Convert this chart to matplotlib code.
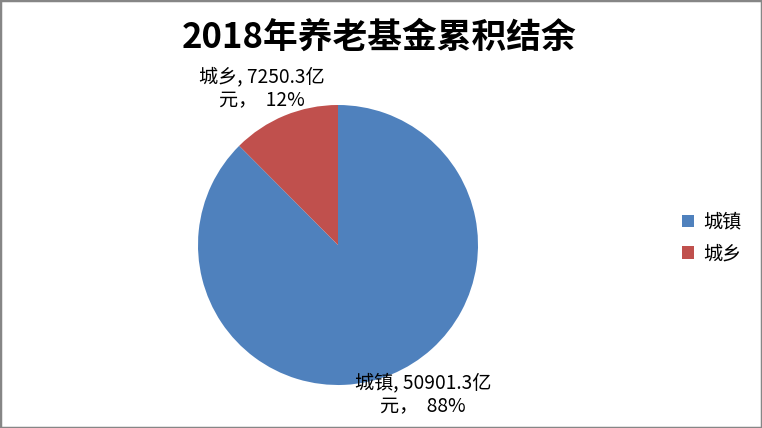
import matplotlib
matplotlib.use('Agg')
import matplotlib.pyplot as plt
from matplotlib.patches import Rectangle

plt.rcParams['font.family'] = ['Noto Sans CJK SC', 'DejaVu Sans']

# data
categories = ['城镇', '城乡']
values = [50901.3, 7250.3]
shares = [88, 12]
colors = ['#4F81BD', '#C0504D']
title = '2018年养老基金累积结余'

fig = plt.figure(figsize=(7.62, 4.28), dpi=100)
# pie centre ~ (338,245) px, radius ~140 px
ax = fig.add_axes([198 / 762, (428 - 385) / 428, 280 / 762, 280 / 428])
wedges, _ = ax.pie(values, colors=colors, startangle=90, counterclock=False,
                   radius=1, wedgeprops=dict(linewidth=0))
ax.set_xlim(-1, 1)
ax.set_ylim(-1, 1)
ax.set_aspect('equal')
ax.axis('off')

# data labels
label_pos = [(0.607, -1.07), (-0.543, 1.114)]
for cat, v, s, (lx, ly) in zip(categories, values, shares, label_pos):
    ax.text(lx, ly, f'{cat}, {v}亿\n元，  {s}%', ha='center', va='center',
            fontsize=13.8, linespacing=1.2, clip_on=False)

fig.text(0.497, 1 - 37 / 428, title, ha='center', va='center',
         fontsize=25, fontweight='bold')

fig.legend(wedges, categories, loc='center left', bbox_to_anchor=(0.873, 0.444),
           frameon=False, fontsize=13.8, handlelength=0.6, handleheight=0.6,
           handletextpad=0.5, labelspacing=0.55)

# outer frame
fig.patches.append(Rectangle((0, 0), 1, 1, transform=fig.transFigure,
                             fill=False, edgecolor='#868686', linewidth=2.5))

fig.savefig('out.png', dpi=100)
